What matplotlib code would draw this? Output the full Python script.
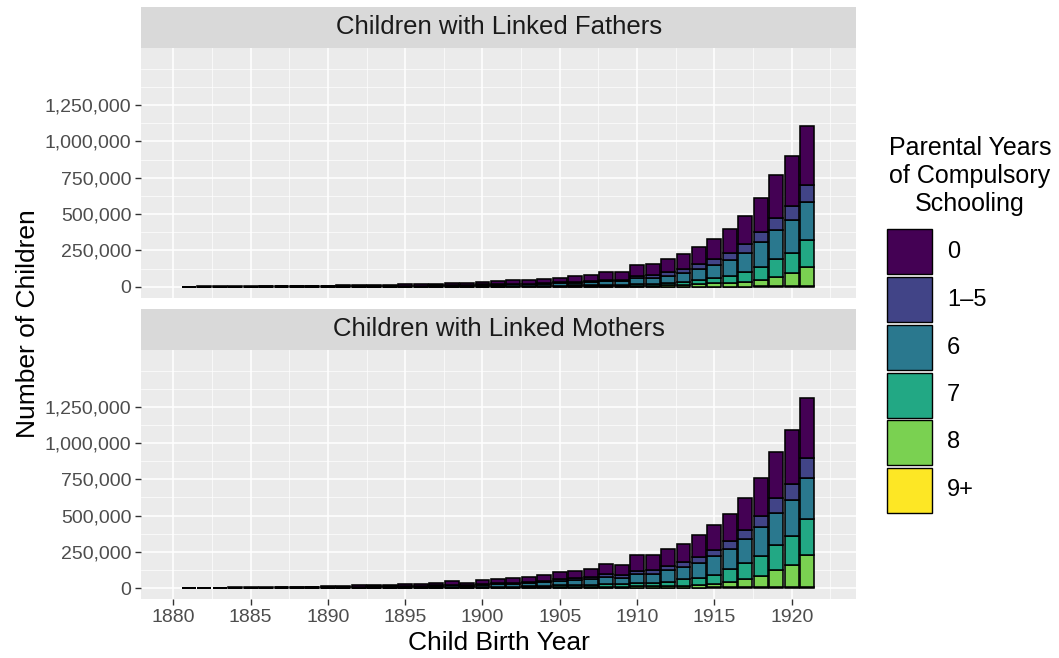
import matplotlib
matplotlib.use("Agg")
import matplotlib.pyplot as plt
from matplotlib.patches import Rectangle
from matplotlib.ticker import FuncFormatter, MultipleLocator
import numpy as np

plt.rcParams['font.family'] = ['Liberation Sans', 'DejaVu Sans']

# Child birth years (one bar per year)
years = list(range(1881, 1922))

categories = ['0', '1\u20135', '6', '7', '8', '9+']
colors = ['#440154', '#414487', '#2A788E', '#22A884', '#7AD151', '#FDE725']

# Children with linked fathers, in thousands, by parental schooling years
fathers_0 = [0.6, 0.9, 1.2, 1.3, 1.7, 1.9, 2.4, 2.9, 3.1, 4.2,
             5.0, 5.8, 7.0, 7.5, 8.6, 9.0, 11.2, 12.2, 13.2, 19.2,
             20.5, 23.0, 24.0, 27.5, 32.0, 37, 42, 55, 52, 74,
             77, 93, 102, 119, 138, 164, 193, 232, 292, 346, 406]
fathers_1_5 = [0.1, 0.15, 0.2, 0.2, 0.3, 0.3, 0.4, 0.5, 0.5, 0.7,
               0.9, 1.0, 1.2, 1.3, 1.5, 1.6, 2.0, 2.2, 2.4, 3.5,
               3.8, 4.4, 4.6, 5.5, 6.5, 7, 8, 11, 10, 18,
               19, 23, 25, 34, 41, 50, 60, 73, 85, 96, 115]
fathers_6 = [0.25, 0.35, 0.5, 0.55, 0.65, 0.8, 1.0, 1.2, 1.3, 1.7,
             2.1, 2.6, 3.0, 3.3, 3.8, 4.2, 5.2, 5.8, 6.4, 9.1,
             10.0, 11.3, 11.8, 14.0, 16.0, 17, 20, 23, 23, 40,
             40, 48, 62, 76, 92, 108, 135, 168, 202, 229, 264]
fathers_7 = [0.05, 0.1, 0.1, 0.15, 0.15, 0.2, 0.2, 0.2, 0.3, 0.3,
             0.4, 0.5, 0.6, 0.7, 0.8, 0.9, 1.2, 1.3, 1.5, 2.3,
             2.6, 3.0, 3.2, 4.0, 5.0, 7, 9, 10, 10, 12,
             13, 17, 21, 28, 34, 49, 66, 92, 120, 138, 184]
fathers_8 = [0, 0, 0, 0, 0, 0, 0, 0, 0, 0.1,
             0.1, 0.1, 0.2, 0.2, 0.3, 0.3, 0.4, 0.5, 0.5, 0.8,
             1.0, 1.2, 1.3, 1.8, 2.3, 3, 4, 4, 4, 5,
             7, 10, 12, 17, 22, 25, 32, 41, 64, 86, 133]
fathers_9 = [0, 0, 0, 0, 0, 0, 0, 0, 0, 0,
             0, 0, 0, 0, 0, 0, 0, 0, 0, 0.1,
             0.1, 0.1, 0.1, 0.2, 0.2, 0.3, 0.3, 0.4, 0.4, 0.5,
             0.5, 0.6, 1, 1, 1, 1, 1, 4, 4, 7, 4]

# Children with linked mothers, in thousands
mothers_0 = [1.0, 1.3, 1.5, 2.0, 2.5, 3.0, 3.5, 4.0, 5.0, 6.5,
             8.5, 10.0, 11.5, 12.0, 15.0, 15.0, 18.5, 22.5, 18.5, 29,
             31, 34, 37, 43, 52, 52, 57, 74, 69, 108,
             105, 115, 129, 149, 172, 191, 223, 264, 317, 372, 413]
mothers_1_5 = [0.2, 0.25, 0.3, 0.4, 0.5, 0.6, 0.7, 0.8, 1.0, 1.3,
               1.7, 2.0, 2.3, 2.4, 3.0, 3.0, 3.7, 4.5, 3.7, 5.8,
               6.3, 7, 7.7, 9, 11, 11, 12, 16, 16, 23,
               23, 28, 32, 41, 46, 57, 64, 73, 99, 110, 138]
mothers_6 = [0.6, 0.7, 0.85, 1.1, 1.4, 1.7, 2.0, 2.3, 2.8, 3.6,
             4.7, 5.6, 6.4, 6.7, 8.4, 8.4, 10.3, 12.6, 10.3, 16.2,
             17.6, 19.6, 21.5, 25, 31, 37, 40, 50, 45, 60,
             62, 85, 87, 103, 126, 138, 165, 202, 227, 253, 287]
mothers_7 = [0.15, 0.2, 0.25, 0.35, 0.4, 0.5, 0.55, 0.6, 0.8, 1.1,
             1.4, 1.6, 1.9, 2.0, 2.5, 2.5, 3.0, 3.6, 3.0, 4.7,
             5.3, 6.2, 7.0, 8.5, 12, 13, 15, 20, 18, 25,
             25, 30, 45, 50, 64, 87, 110, 138, 172, 200, 246]
mothers_8 = [0.05, 0.05, 0.1, 0.15, 0.2, 0.2, 0.25, 0.3, 0.4, 0.5,
             0.6, 0.7, 0.8, 0.8, 1.0, 1.0, 1.3, 1.6, 1.3, 2.0,
             2.5, 2.9, 3.4, 4.0, 5.5, 5, 6, 8, 8, 10,
             10, 10, 12, 18, 25, 36, 55, 76, 114, 149, 222]
mothers_9 = [0, 0, 0, 0, 0, 0, 0, 0, 0, 0,
             0.1, 0.1, 0.1, 0.1, 0.1, 0.1, 0.2, 0.2, 0.2, 0.3,
             0.3, 0.3, 0.4, 0.5, 0.5, 1, 1, 1, 1, 2,
             2, 2, 2, 3, 4, 5, 6, 7, 8, 8, 6]

UNIT = 1000

panels = [
    ('Children with Linked Fathers',
     [fathers_0, fathers_1_5, fathers_6, fathers_7, fathers_8, fathers_9]),
    ('Children with Linked Mothers',
     [mothers_0, mothers_1_5, mothers_6, mothers_7, mothers_8, mothers_9]),
]

W, H = 1059, 658
fig = plt.figure(figsize=(W / 100, H / 100), dpi=100)

def fx(px):
    return px / W

def fy(py):
    return 1 - py / H

# panel boxes in pixels (left, top, right, bottom)
boxes = [(141.3, 48, 856, 298), (141.3, 350, 856, 599.3)]
strip_h = 41

for i, (title, series) in enumerate(panels):
    l, t, r, b = boxes[i]
    ax = fig.add_axes([fx(l), fy(b), fx(r) - fx(l), fy(t) - fy(b)])
    ax.set_facecolor('#EBEBEB')
    for s in ax.spines.values():
        s.set_visible(False)

    # stack from the bottom: 9+, 8, 7, 6, 1-5, 0
    bottom = np.zeros(len(years))
    for k in range(len(categories) - 1, -1, -1):
        vals = np.array(series[k]) * UNIT
        ax.bar(years, vals, width=0.9, bottom=bottom, color=colors[k],
               edgecolor='black', linewidth=1.15, zorder=3)
        bottom += vals

    ax.set_xlim(1877.93, 1924.16)
    ax.set_ylim(-78000, 1643000)
    ax.set_yticks([0, 250000, 500000, 750000, 1000000, 1250000])
    ax.set_yticks([125000, 375000, 625000, 875000, 1125000, 1375000, 1500000], minor=True)
    ax.xaxis.set_major_locator(MultipleLocator(5))
    ax.xaxis.set_minor_locator(MultipleLocator(2.5))
    ax.yaxis.set_major_formatter(FuncFormatter(lambda v, p: f'{int(v):,}'))
    ax.grid(which='major', color='white', linewidth=1.1, zorder=0)
    ax.grid(which='minor', color='white', linewidth=0.5, zorder=0)
    ax.set_axisbelow(True)
    ax.tick_params(which='major', length=4, width=1, color='#333333',
                   labelcolor='#4D4D4D', labelsize=14, pad=3.2)
    ax.tick_params(which='minor', length=0)
    if i == 0:
        ax.tick_params(axis='x', which='major', length=0, labelbottom=False)

    # facet strip
    fig.patches.append(Rectangle((fx(l), fy(t)), fx(r) - fx(l), fy(t - strip_h) - fy(t),
                                 transform=fig.transFigure, facecolor='#D9D9D9',
                                 edgecolor='none'))
    fig.text(fx((l + r) / 2), fy(t - strip_h / 2), title, ha='center', va='center',
             fontsize=18.5, color='#1A1A1A')

fig.text(fx(498.7), fy(643), 'Child Birth Year', ha='center', va='center', fontsize=19)
fig.text(fx(28), fy(324), 'Number of Children', ha='center', va='center',
         rotation=90, fontsize=19)

# legend
for line, base in zip(['Parental Years', 'of Compulsory', 'Schooling'], [155, 183, 211]):
    fig.text(fx(970), fy(base), line, ha='center', va='baseline', fontsize=18)
key_tops = [229.3, 277.3, 325, 372.7, 420, 467.7]
for cat, col, kt in zip(categories, colors, key_tops):
    fig.patches.append(Rectangle((fx(887), fy(kt + 45)), fx(45), fy(0) - fy(45),
                                 transform=fig.transFigure, facecolor=col,
                                 edgecolor='black', linewidth=1.0))
    fig.text(fx(947), fy(kt + 22.5), cat, ha='left', va='center', fontsize=17)

fig.savefig('out.png', dpi=100)
